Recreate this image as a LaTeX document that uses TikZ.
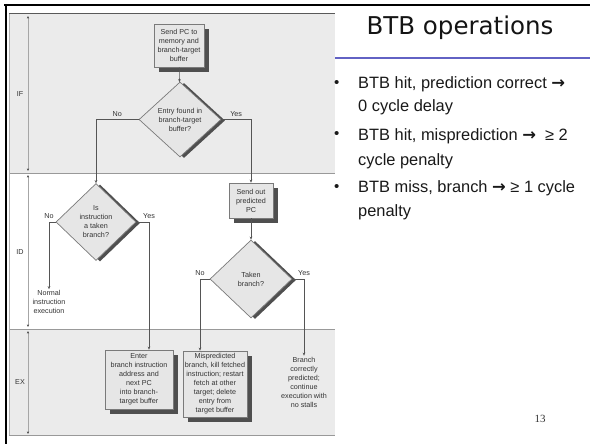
\documentclass[tikz,border=0pt]{standalone}
\usepackage{fontspec}
\setmainfont{Liberation Sans}
\newfontfamily\titlefont{DejaVu Sans}
\newfontfamily\arrowfont{DejaVu Sans}
\newfontfamily\numfont{Liberation Serif}
\usetikzlibrary{shapes.geometric,shadows,arrows.meta}
\definecolor{band}{HTML}{EBEBEB}
\definecolor{boxfill}{HTML}{E6E6E6}
\definecolor{boxline}{HTML}{7A7A7A}
\definecolor{shade}{HTML}{4F4F4F}
\definecolor{ink}{HTML}{333333}
\definecolor{wire}{HTML}{555555}
\definecolor{rulecol}{HTML}{6262C4}
\newcommand{\bigarrow}{{\arrowfont\bfseries →}}
\begin{document}
\begin{tikzpicture}[x=1pt,y=-1pt,
  dtext/.style={font=\fontsize{7.2}{9}\selectfont, text=ink, align=center, inner sep=1pt},
  pbox/.style={dtext, draw=boxline, fill=boxfill, line width=0.7pt,
    drop shadow={shadow xshift=5pt, shadow yshift=-5pt, fill=shade, opacity=1}},
  pdia/.style={dtext, diamond, draw=boxline, fill=boxfill, line width=0.7pt, inner sep=0pt,
    drop shadow={shadow xshift=4pt, shadow yshift=-1pt, fill=shade, opacity=1}},
  wirestyle/.style={draw=wire, line width=0.6pt, -{Stealth[length=3pt,width=2.6pt]}},
  lbl/.style={font=\fontsize{7.2}{9}\selectfont, text=ink, inner sep=0pt},
  bul/.style={font=\fontsize{16.4}{20}\selectfont, text=black!90, anchor=base west, inner sep=0pt},
  dot/.style={font=\fontsize{15}{18}\selectfont, text=black!90, anchor=base west, inner sep=0pt},
  stageline/.style={draw=black!35, line width=0.8pt,
    {Stealth[length=2.6pt,width=2.2pt,black!75]}-{Stealth[length=2.6pt,width=2.2pt,black!75]}},
]
\useasboundingbox (0,0) rectangle (590,444);
\fill[white] (0,0) rectangle (590,444);

% bands of the figure
\fill[band] (9,14) rectangle (335,173);
\fill[band] (9,329) rectangle (335,435);
\draw[black!65, line width=1pt] (9,14) -- (335,14);
\draw[black!40, line width=0.8pt] (9,173) -- (335,173);
\draw[black!40, line width=0.8pt] (9,329) -- (335,329);
\draw[black!40, line width=0.8pt] (9,435) -- (335,435);
\draw[black!30, line width=0.8pt] (9,14) -- (9,435);

% outer black frame
\draw[black, line width=2pt] (4,5) -- (590,5);
\draw[black, line width=2pt] (5.5,4) -- (5.5,444);

% stage dimension lines and labels
\draw[stageline] (28,16) -- (28,171);
\draw[stageline] (28,175) -- (28,327);
\draw[stageline] (28,331) -- (28,434);
\node[lbl] (sif) at (20,94) {IF};
\node[lbl] (sid) at (20,252) {ID};
\node[lbl] (sex) at (20,382) {EX};

% flowchart nodes
\node[pbox, minimum width=50pt, minimum height=43pt] (send) at (179,45.5)
  {Send PC to\\memory and\\branch-target\\buffer};
\node[pdia, minimum width=82pt, minimum height=75pt] (found) at (180,119.5)
  {Entry found in\\branch-target\\buffer?};
\node[pdia, minimum width=80pt, minimum height=77pt] (taken1) at (96,222)
  {Is\\instruction\\a taken\\branch?};
\node[pbox, minimum width=44pt, minimum height=35pt] (sendout) at (251,200.5)
  {Send out\\predicted\\PC};
\node[pdia, minimum width=82pt, minimum height=78pt] (taken2) at (251,279)
  {Taken\\branch?};
\node[dtext] (normal) at (49,302) {Normal\\instruction\\execution};
\node[pbox, minimum width=68pt, minimum height=59pt] (enter) at (139,379.5)
  {Enter\\branch instruction\\address and\\next PC\\into branch-\\target buffer};
\node[pbox, minimum width=64pt, minimum height=66pt, inner sep=0pt] (misp) at (215,384)
  {Mispredicted\\branch, kill fetched\\instruction; restart\\fetch at other\\target; delete\\entry from\\target buffer};
\node[dtext] (correct) at (304,382)
  {Branch\\correctly\\predicted;\\continue\\execution with\\no stalls};

% connectors
\draw[wirestyle] (send) -- (found);
\draw[wirestyle] (found.west) -| node[lbl, pos=0.25, above=3pt] {No} (taken1.north);
\draw[wirestyle] (found.east) -| node[lbl, pos=0.25, above=3pt] {Yes} (sendout.north);
\draw[wirestyle] (taken1.west) -| node[lbl, pos=0.5, above=3pt] {No} (normal.north);
\draw[wirestyle] (taken1.east) -| node[lbl, pos=0.5, above=3pt] {Yes} ([xshift=10pt]enter.north);
\draw[wirestyle] (sendout) -- (taken2);
\draw[wirestyle] (taken2.west) -| node[lbl, pos=0.5, above=3pt] {No} ([xshift=-15pt]misp.north);
\draw[wirestyle] (taken2.east) -| node[lbl, pos=0.5, above=3pt] {Yes} (correct.north);

% slide title and text
\node[font=\titlefont\fontsize{24.5}{29}\selectfont, text=black!92] (title) at (460,28) {BTB operations};
\coordinate (ruleL) at (335,58);
\coordinate (ruleR) at (590,58);
\draw[rulecol, line width=1.3pt] (ruleL) -- (ruleR);

\node[dot] (d1) at (334,88) {•};
\node[bul] (b1) at (358,89) {BTB hit, prediction correct \bigarrow};
\node[bul] (b2) at (358,112) {0 cycle delay};
\node[dot] (d2) at (334,139) {•};
\node[bul] (b3) at (358,140) {BTB hit, misprediction \bigarrow~ ≥ 2};
\node[bul] (b4) at (358,165) {cycle penalty};
\node[dot] (d3) at (334,192) {•};
\node[bul] (b5) at (358,193) {BTB miss, branch \bigarrow\ ≥ 1 cycle};
\node[bul] (b6) at (358,216.5) {penalty};

\node[font=\numfont\fontsize{11}{13}\selectfont, text=black!80] (pg) at (540,419) {13};
\end{tikzpicture}
\end{document}
